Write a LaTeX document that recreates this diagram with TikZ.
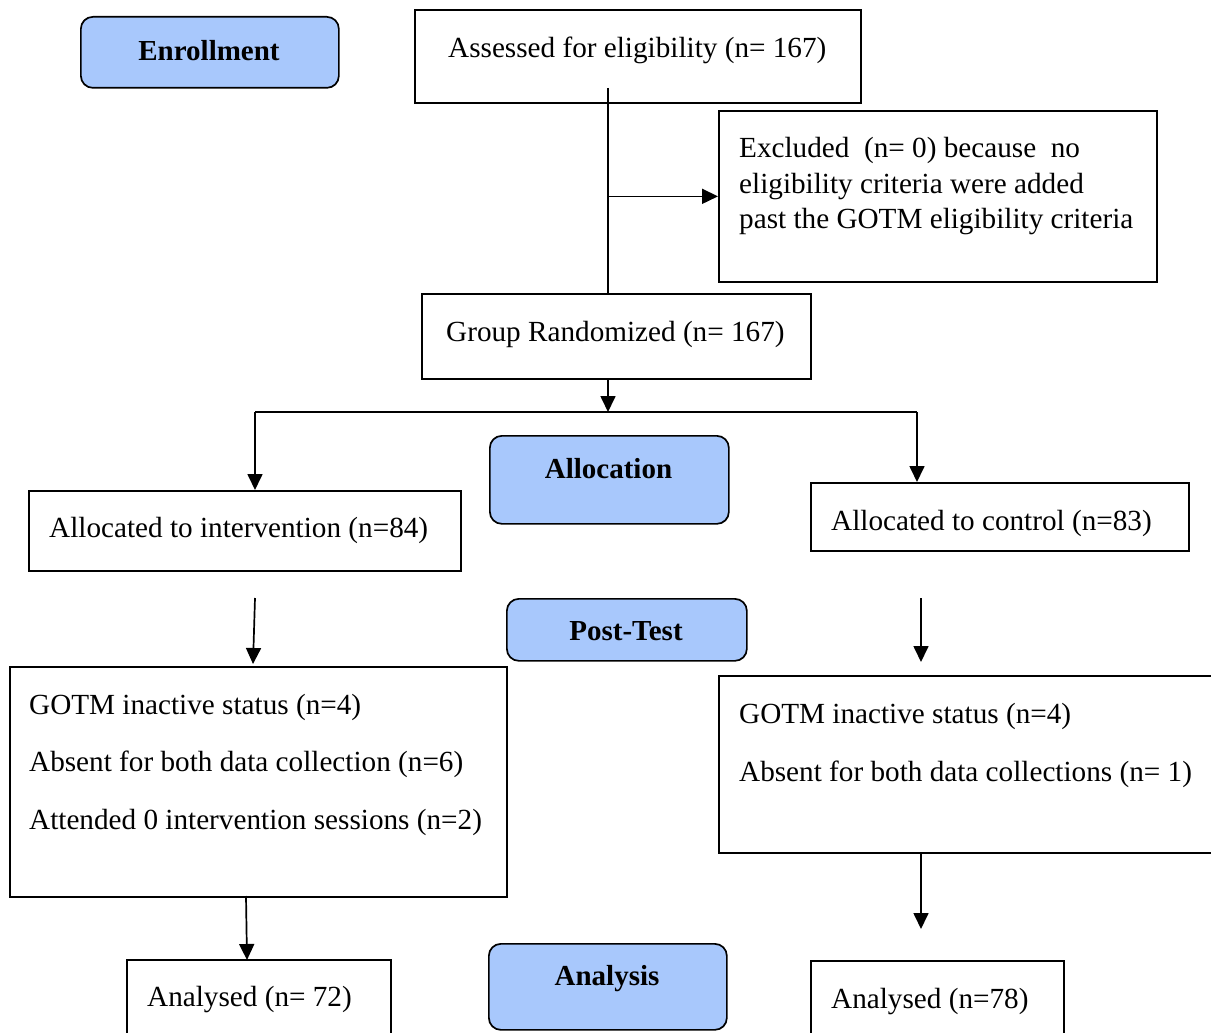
\documentclass[tikz,border=0pt]{standalone}
\usepackage{fontspec}
\setmainfont{Liberation Serif}
\usetikzlibrary{arrows.meta}
\definecolor{hdblue}{RGB}{168,200,252}
\begin{document}
\begin{tikzpicture}[x=1pt,y=-1pt,
  box/.style={draw,line width=1.7pt,inner sep=0,anchor=north west},
  hdbox/.style={draw,line width=1.7pt,fill=hdblue,rounded corners=12pt,inner sep=0,anchor=north west},
  txt/.style={inner sep=0,anchor=west,yshift=-3pt,font=\fontsize{29.2}{34}\selectfont},
  hdtxt/.style={inner sep=0,anchor=center,yshift=-2pt,font=\fontsize{29}{34}\selectfont\bfseries},
  ln/.style={line width=1.7pt},
  arr/.style={line width=1.7pt,-{Triangle[length=16pt,width=15pt]}}]
\useasboundingbox (0,0) rectangle (1211,1033);
% header boxes
\node[hdbox,minimum width=258pt,minimum height=71pt] (enr) at (80,16) {};
\node[hdtxt] (enrt) at (209,49) {Enrollment};
\node[hdbox,minimum width=239pt,minimum height=88pt] (alc) at (489,435) {};
\node[hdtxt] (alct) at (608.5,467) {Allocation};
\node[hdbox,minimum width=240pt,minimum height=62pt] (pst) at (506,598) {};
\node[hdtxt] (pstt) at (626,629) {Post-Test};
\node[hdbox,minimum width=238pt,minimum height=86pt] (ana) at (488,943) {};
\node[hdtxt] (anat) at (607,977) {Analysis};
% content boxes
\node[box,minimum width=446pt,minimum height=93pt] (ass) at (414,9) {};
\node[txt] (asst) at (448,47) {Assessed for eligibility (n= 167)};
\node[box,minimum width=438pt,minimum height=171pt] (exc) at (718,110) {};
\node[txt] (exc1) at (739,147) {Excluded\ \ (n= 0) because\ \ no};
\node[txt] (exc2) at (739,184) {eligibility criteria were added};
\node[txt] (exc3) at (739,219) {past the GOTM eligibility criteria};
\node[box,minimum width=389pt,minimum height=85pt] (grp) at (421,293) {};
\node[txt] (grpt) at (446,331) {Group Randomized (n= 167)};
\node[box,minimum width=432pt,minimum height=80pt] (ali) at (28,490) {};
\node[txt] (alit) at (49,527) {Allocated to intervention (n=84)};
\node[box,minimum width=378pt,minimum height=68pt] (alo) at (810,482) {};
\node[txt] (alot) at (831,520) {Allocated to control (n=83)};
\node[box,minimum width=497pt,minimum height=230pt] (lb) at (9,666) {};
\node[txt] (lb1) at (29,704) {GOTM inactive status (n=4)};
\node[txt] (lb2) at (29,761) {Absent for both data collection (n=6)};
\node[txt] (lb3) at (29,819) {Attended 0 intervention sessions (n=2)};
\node[box,minimum width=510pt,minimum height=177pt] (rb) at (718,675) {};
\node[txt] (rb1) at (739,713) {GOTM inactive status (n=4)};
\node[txt] (rb2) at (739,771) {Absent for both data collections (n= 1)};
\node[box,minimum width=264pt,minimum height=90pt] (anl) at (126,959) {};
\node[txt] (anlt) at (147,997) {Analysed (n= 72)};
\node[box,minimum width=253pt,minimum height=90pt] (anr) at (810,960) {};
\node[txt] (anrt) at (831,999) {Analysed (n=78)};
% connectors
\coordinate (vtop) at (608,88);
\draw[ln] (vtop) -- (vtop |- grp.north);
\draw[arr] (vtop |- exc.west) -- (exc.west);
\coordinate (split) at (608,412);
\draw[arr] (split |- grp.south) -- (split);
\coordinate (lt) at (255,412);
\coordinate (rt) at (917,412);
\draw[ln] (lt) -- (rt);
\draw[arr] (lt) -- (lt |- ali.north);
\draw[arr] (rt) -- (rt |- alo.north);
\coordinate (a1s) at (255,598);
\coordinate (a1e) at (253,664);
\draw[arr] (a1s) -- (a1e);
\coordinate (a2s) at (921,598);
\coordinate (a2e) at (921,662);
\draw[arr] (a2s) -- (a2e);
\coordinate (a3s) at (246,896);
\coordinate (a3e) at (247,960);
\draw[arr] (a3s) -- (a3e);
\coordinate (a4s) at (921,852);
\coordinate (a4e) at (921,929);
\draw[arr] (a4s) -- (a4e);
\end{tikzpicture}
\end{document}
